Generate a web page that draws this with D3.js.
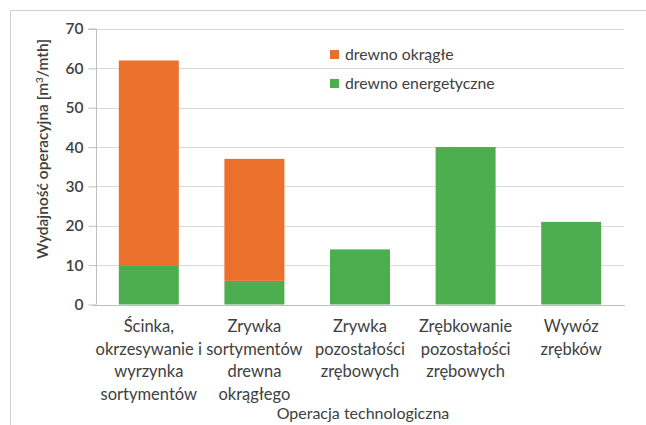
<!DOCTYPE html>
<html>
<head>
<meta charset="utf-8">
<script src="https://cdn.jsdelivr.net/npm/d3@7"></script>
<style>
  html, body { margin: 0; padding: 0; background: #fff; }
  svg { display: block; }
  text { font-family: Lato, "Open Sans", sans-serif; fill: #404040; }
</style>
</head>
<body>
<svg id="chart" width="646" height="425"></svg>
<script>
const categories = [
  ["Ścinka,", "okrzesywanie i", "wyrzynka", "sortymentów"],
  ["Zrywka", "sortymentów", "drewna", "okrągłego"],
  ["Zrywka", "pozostałości", "zrębowych"],
  ["Zrębkowanie", "pozostałości", "zrębowych"],
  ["Wywóz", "zrębków"]
];
const seriesNames = ["drewno energetyczne", "drewno okrągłe"];
const energetyczne = [10, 6, 14, 40, 21];
const okragle = [52, 31, 0, 0, 0];
const yTicks = [0, 10, 20, 30, 40, 50, 60, 70];
const colors = ["#4CAE4F", "#EB702C"];

const svg = d3.select("#chart");
const margin = { left: 96, right: 624, top: 29, bottom: 304.5 };

// outer frame
svg.append("path")
  .attr("d", "M10.5,425 L10.5,10.5 L646,10.5")
  .attr("fill", "none").attr("stroke", "#cfcfcf").attr("stroke-width", 1);

const x = d3.scaleBand()
  .domain(d3.range(categories.length))
  .range([margin.left, margin.right])
  .paddingInner(0.432).paddingOuter(0.216);
const y = d3.scaleLinear().domain([0, 70]).range([margin.bottom, margin.top]);

// gridlines
svg.append("g").selectAll("line").data(yTicks.filter(d => d > 0)).join("line")
  .attr("x1", margin.left).attr("x2", margin.right)
  .attr("y1", d => Math.round(y(d)) + 0.5).attr("y2", d => Math.round(y(d)) + 0.5)
  .attr("stroke", "#d9d9d9").attr("stroke-width", 1);

// stacked data
const rows = energetyczne.map((e, i) => ({ i, e, o: okragle[i] }));
const stack = d3.stack().keys(["e", "o"])(rows);

svg.append("g").selectAll("g").data(stack).join("g")
  .attr("fill", (d, k) => colors[k])
  .selectAll("rect").data(d => d.filter(s => s[1] > s[0])).join("rect")
  .attr("x", d => x(d.data.i))
  .attr("width", x.bandwidth())
  .attr("y", d => y(d[1]))
  .attr("height", d => y(d[0]) - y(d[1]));

// y axis
const yAxis = d3.axisLeft(y).tickValues(yTicks).tickSize(8).tickPadding(5);
const gy = svg.append("g").attr("transform", `translate(${margin.left + 0.5},0)`).call(yAxis);
gy.select(".domain").attr("stroke", "#bfbfbf").attr("d", `M-8,${y(70)}H0V${y(0)}`);
gy.selectAll(".tick line").attr("stroke", "#bfbfbf");
gy.selectAll(".tick text").attr("font-size", 15.5).attr("font-weight", 600)
  .style("fill", "#404040").attr("font-family", "Lato, sans-serif");

// x axis baseline
svg.append("line")
  .attr("x1", margin.left - 3).attr("x2", margin.right + 1)
  .attr("y1", Math.round(y(0)) + 0.5).attr("y2", Math.round(y(0)) + 0.5)
  .attr("stroke", "#bfbfbf");

// category labels
const catG = svg.append("g");
categories.forEach((lines, i) => {
  const t = catG.append("text")
    .attr("text-anchor", "middle")
    .attr("font-size", 16.5)
    .attr("x", x(i) + x.bandwidth() / 2)
    .attr("y", 332);
  lines.forEach((ln, j) => {
    t.append("tspan").attr("x", x(i) + x.bandwidth() / 2).attr("dy", j === 0 ? 0 : 22.5).text(ln);
  });
});

// axis titles
svg.append("text")
  .attr("text-anchor", "middle").attr("font-size", 16)
  .attr("x", (margin.left + margin.right) / 2 + 3).attr("y", 419)
  .text("Operacja technologiczna");

const yt = svg.append("text")
  .attr("text-anchor", "middle").attr("font-size", 15.5).attr("font-weight", 600)
  .attr("transform", "translate(48,149) rotate(-90)");
yt.append("tspan").text("Wydajność operacyjna [m");
yt.append("tspan").attr("dy", -5).attr("font-size", 10).text("3");
yt.append("tspan").attr("dy", 5).text("/mth]");

// legend (order: okrągłe on top)
const legendItems = [
  { name: seriesNames[1], color: colors[1] },
  { name: seriesNames[0], color: colors[0] }
];
const lg = svg.append("g").selectAll("g").data(legendItems).join("g")
  .attr("transform", (d, k) => `translate(330,${50 + k * 29})`);
lg.append("rect").attr("width", 9).attr("height", 9).attr("fill", d => d.color);
lg.append("text").attr("x", 15).attr("y", 9.5).attr("font-size", 15.8).text(d => d.name);
</script>
</body>
</html>
